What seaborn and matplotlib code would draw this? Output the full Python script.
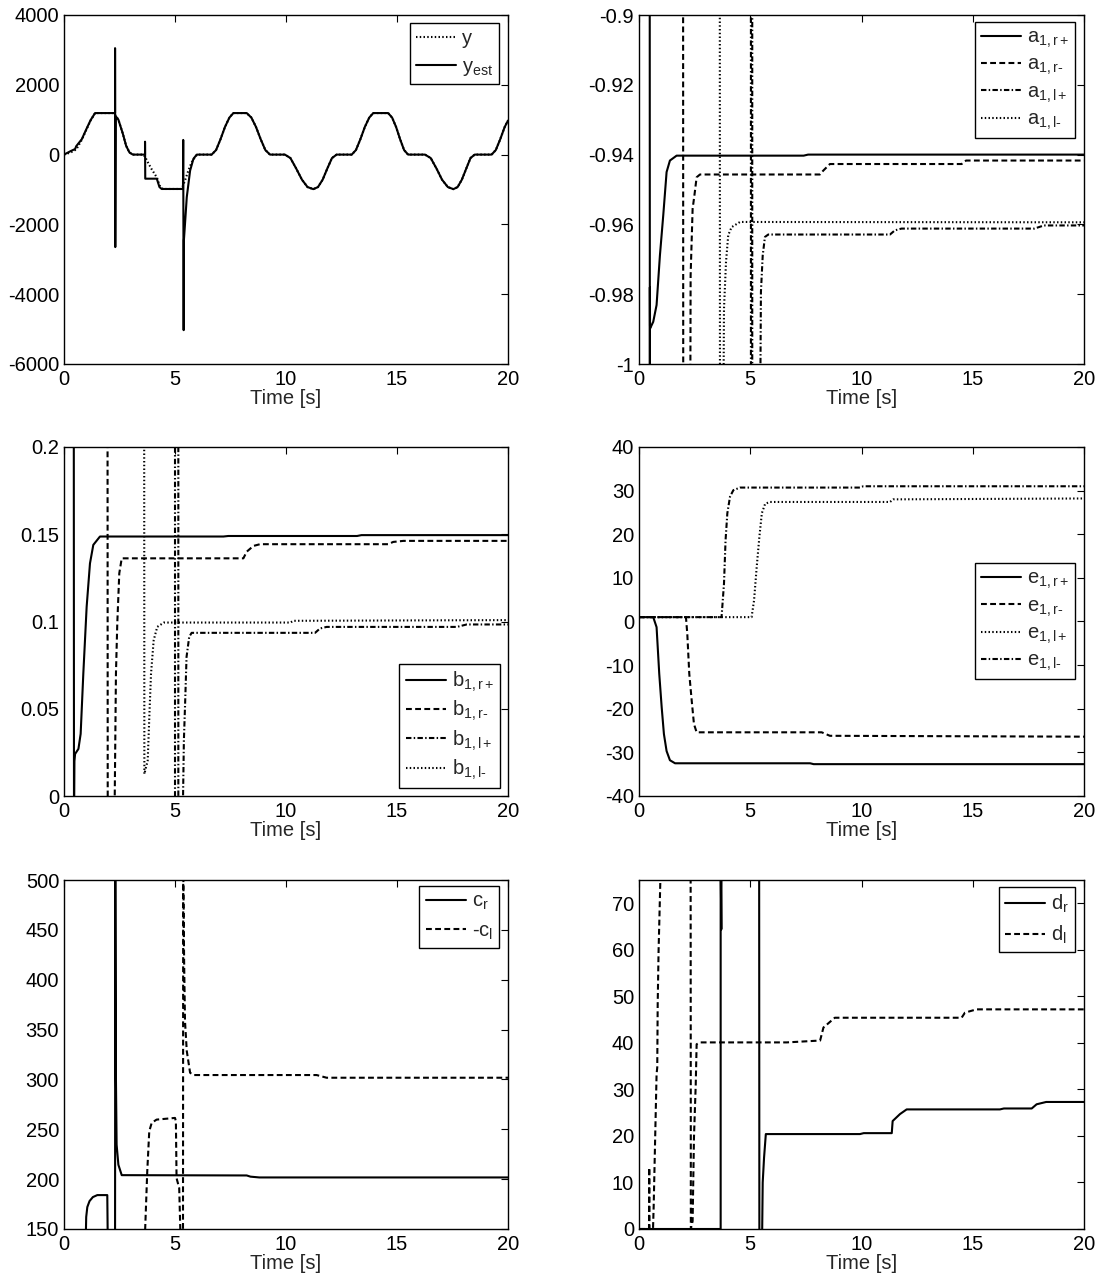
import numpy as np
import pandas as pd
import matplotlib
matplotlib.use("Agg")
import matplotlib.pyplot as plt
from matplotlib.ticker import FormatStrFormatter, MultipleLocator
import seaborn as sns

# ---------------------------------------------------------------- data
# Output and its estimate: common periodic tail after the start-up transient
TAIL_T = [6.65, 6.85, 7.05, 7.25, 7.45, 7.63, 8.23, 8.44, 8.65, 8.86, 9.07, 9.28,
          9.95, 10.2, 10.46, 10.72, 10.97, 11.23, 11.44, 11.65, 11.86, 12.07, 12.28,
          12.96, 13.15, 13.35, 13.55, 13.75, 13.93, 14.6, 14.78, 14.96, 15.14, 15.32, 15.5,
          16.26, 16.52, 16.78, 17.03, 17.29, 17.54, 17.73, 17.92, 18.12, 18.31, 18.5,
          19.26, 19.45, 19.65, 19.85, 20.0]
TAIL_V = [0, 130, 440, 790, 1060, 1190, 1190, 1060, 790, 440, 130, 0,
          0, -100, -400, -720, -930, -990, -930, -720, -400, -100, 0,
          0, 130, 440, 790, 1060, 1190, 1190, 1060, 790, 440, 130, 0,
          0, -100, -400, -720, -930, -990, -930, -720, -400, -100, 0,
          0, 130, 440, 790, 975]

Y_START_T = [0.0, 0.3, 0.5, 0.6, 0.8, 1.0, 1.2, 1.4, 2.25, 2.45, 2.65, 2.8, 2.95, 3.1,
             3.57, 3.65, 3.8, 3.95, 4.1, 4.2, 4.3, 4.45, 5.3, 5.45, 5.6, 5.75, 5.9, 6.0]
Y_START_V = [0, 60, 130, 200, 420, 700, 980, 1190, 1190, 1000, 600, 250, 60, 0,
             0, -60, -250, -420, -570, -680, -880, -985, -985, -745, -460, -220, -76, 0]

YEST_START_T = [0.0, 0.3, 0.5, 0.55, 0.8, 1.0, 1.2, 1.4, 2.3, 2.3, 2.31, 2.33, 2.45, 2.65,
                2.8, 2.95, 3.1, 3.65, 3.65, 3.66, 4.18, 4.3, 4.4, 5.36, 5.37, 5.39, 5.40,
                5.45, 5.53, 5.68, 5.83, 5.98]
YEST_START_V = [0, 100, 160, 240, 440, 720, 990, 1190, 1190, 3050, -2650, 1100, 1000, 600,
                250, 60, 0, 0, 370, -690, -690, -930, -985, -985, 420, -5030, -2460,
                -1990, -1220, -460, -120, 0]

# a1 parameters
A_RP_T = [0.48, 0.49, 0.49, 0.495, 0.50, 0.64, 0.79, 0.94, 1.09, 1.24, 1.39, 1.69, 7.4, 7.6, 20.0]
A_RP_V = [-0.85, -1.05, -0.978, -0.989, -0.9898, -0.9879, -0.9831, -0.9689, -0.9574,
          -0.9450, -0.9417, -0.9403, -0.9403, -0.9400, -0.9400]
A_RM_T = [1.98, 1.99, 2.29, 2.32, 2.41, 2.49, 2.59, 2.74, 8.13, 8.28, 8.58, 14.5, 14.7, 20.0]
A_RM_V = [-0.85, -1.05, -1.05, -0.9746, -0.9555, -0.9517, -0.9465, -0.9457, -0.9457,
          -0.9446, -0.9427, -0.9427, -0.9417, -0.9417]
A_LP_T = [5.03, 5.03, 5.09, 5.09, 5.41, 5.48, 5.56, 5.66, 5.81, 11.28, 11.5, 11.8, 17.77, 18.2, 20.0]
A_LP_V = [-1.05, -0.85, -0.85, -1.05, -1.05, -0.9793, -0.9689, -0.9636, -0.9629, -0.9629,
          -0.9617, -0.9612, -0.9612, -0.9603, -0.9603]
A_LM_T = [3.63, 3.64, 3.76, 3.82, 3.91, 4.01, 4.16, 4.54, 20.0]
A_LM_V = [-0.85, -1.05, -1.05, -0.9841, -0.9708, -0.9631, -0.9608, -0.9593, -0.9594]

# b1 parameters
B_RP_T = [0.44, 0.45, 0.47, 0.50, 0.65, 0.75, 0.87, 1.02, 1.17, 1.32, 1.62, 7.18, 7.4, 13.2, 13.4, 20.0]
B_RP_V = [0.25, -0.02, 0.02, 0.0241, 0.0270, 0.0356, 0.0701, 0.1084, 0.1333, 0.1439, 0.1487,
          0.1487, 0.1490, 0.1490, 0.1495, 0.1495]
B_RM_T = [1.96, 1.97, 2.27, 2.34, 2.40, 2.49, 2.60, 8.08, 8.23, 8.53, 8.83, 14.6, 14.83, 15.29, 20.0]
B_RM_V = [0.25, -0.02, -0.02, 0.0701, 0.0989, 0.1276, 0.1362, 0.1362, 0.1400, 0.1433, 0.1443,
          0.1443, 0.1456, 0.1462, 0.1462]
B_LP_T = [5.0, 5.0, 5.15, 5.15, 5.34, 5.40, 5.46, 5.52, 5.64, 5.75, 11.31, 11.53, 11.83, 17.7, 18.14, 20.0]
B_LP_V = [-0.02, 0.25, 0.25, -0.02, -0.02, 0.0318, 0.0548, 0.0797, 0.0912, 0.0935, 0.0935,
          0.0960, 0.0969, 0.0969, 0.0983, 0.0983]
B_LM_T = [3.61, 3.62, 3.77, 3.86, 3.92, 4.04, 4.20, 4.50, 10.2, 10.33, 20.0]
B_LM_V = [0.25, 0.0126, 0.0203, 0.0510, 0.0701, 0.0893, 0.0969, 0.0994, 0.0994, 0.1004, 0.1008]

# e1 parameters
E_RP_T = [0.0, 0.64, 0.79, 0.91, 1.02, 1.12, 1.24, 1.39, 1.62, 7.69, 7.85, 20.0]
E_RP_V = [1.0, 1.0, -1.3, -12.0, -19.7, -25.8, -29.7, -31.8, -32.5, -32.5, -32.7, -32.7]
E_RM_T = [0.0, 2.11, 2.17, 2.26, 2.37, 2.47, 2.59, 8.21, 8.58, 20.0]
E_RM_V = [1.0, 1.0, -2.8, -12.0, -18.2, -23.5, -25.4, -25.4, -26.2, -26.4]
E_LP_T = [0.0, 5.06, 5.17, 5.29, 5.41, 5.52, 5.67, 5.89, 11.28, 11.43, 20.0]
E_LP_V = [1.0, 1.0, 4.8, 12.5, 19.4, 24.8, 27.0, 27.4, 27.4, 28.0, 28.2]
E_LM_T = [0.0, 3.71, 3.82, 3.89, 3.97, 4.09, 4.24, 4.54, 9.93, 10.08, 20.0]
E_LM_V = [1.0, 1.0, 8.7, 18.6, 24.8, 28.6, 30.1, 30.7, 30.7, 31.0, 31.0]

# c parameters
C_R_T = [0.98, 1.0, 1.05, 1.15, 1.3, 1.5, 1.95, 1.97, 2.29, 2.30, 2.31, 2.34, 2.37, 2.45,
         2.60, 8.23, 8.4, 8.8, 20.0]
C_R_V = [140, 162, 172, 178, 182, 184, 184, 140, 140, 140, 520, 300, 234.6, 214.4,
         204.0, 203.7, 202.5, 201.7, 201.7]
C_L_T = [3.64, 3.75, 3.84, 3.95, 4.17, 5.0, 5.04, 5.07, 5.19, 5.25, 5.36, 5.37, 5.41, 5.45,
         5.53, 5.68, 5.83, 11.38, 11.83, 20.0]
C_L_V = [140, 207.7, 248, 256.4, 259.7, 261.4, 258, 201, 191, 140, 140, 520, 420, 358.7,
         328.5, 306.7, 304.4, 304.4, 301.7, 301.7]

# d parameters
D_R_T = [0.0, 3.67, 3.67, 3.70, 3.71, 5.40, 5.41, 5.53, 5.56, 5.62, 5.70, 9.93, 10.1,
         11.36, 11.40, 11.73, 12.03, 16.22, 16.4, 17.65, 17.87, 18.3, 20.0]
D_R_V = [0, 0, 80, 64.4, 80, 80, -3, -3, 10, 15.3, 20.4, 20.4, 20.6,
         20.6, 23.2, 24.7, 25.7, 25.7, 25.9, 25.9, 26.8, 27.3, 27.3]
D_L_T = [0.0, 0.45, 0.46, 0.47, 0.63, 0.66, 0.72, 0.79, 0.82, 0.84, 0.88, 0.96, 1.0, 2.32,
         2.33, 2.41, 2.47, 2.55, 2.59, 2.74, 6.64, 8.14, 8.29, 8.80, 14.5, 14.65, 15.17, 20.0]
D_L_V = [0, 0, 13.2, 0, 0, 5, 18.2, 33.3, 34.7, 48.3, 59.8, 75, 80, 80,
         0, 1.7, 19.6, 31.1, 39.7, 40.1, 40.1, 40.5, 43.3, 45.4, 45.4, 46.5, 47.2, 47.2]

# ---------------------------------------------------------------- style
sns.set_style("white")
plt.rcParams["font.family"] = ["Liberation Sans", "DejaVu Sans"]
plt.rcParams.update({
    "mathtext.fontset": "custom",
    "mathtext.rm": "Liberation Sans",
    "mathtext.it": "Liberation Sans",
    "mathtext.bf": "Liberation Sans",
    "mathtext.fallback": "stixsans",
    "axes.unicode_minus": False,
    "font.size": 14.5,
    "axes.edgecolor": "black",
    "axes.linewidth": 1.0,
    "xtick.color": "black",
    "ytick.color": "black",
})

LW = 1.5
STYLES = {
    "solid": "-",
    "dashed": (0, (2.8, 1.6)),
    "dotted": (0, (0.7, 1.1)),
    "dashdot": (0, (2.6, 1.1, 0.7, 1.1)),
}
HY = "\u2010"  # short hyphen for subscripts (mathtext turns '-' into a wide minus)

FONT = 14.5
W, H = 1103, 1280
fig = plt.figure(figsize=(W / 100, H / 100), dpi=100)


def make_axes(px_left, px_top, px_w=444, px_h=349):
    return fig.add_axes([px_left / W, 1 - (px_top + px_h) / H, px_w / W, px_h / H])


def trace(ax, t, v, style, label):
    df = pd.DataFrame({"t": t, "v": v})
    sns.lineplot(data=df, x="t", y="v", ax=ax, estimator=None, sort=False,
                 color="black", linestyle=STYLES[style], linewidth=LW, label=label)


def finish(ax, ylim, ystep, yfmt, legend_loc, anchor, spacing=0.25):
    ax.set_xlim(0, 20)
    ax.set_ylim(*ylim)
    ax.xaxis.set_major_locator(MultipleLocator(5))
    ax.yaxis.set_major_locator(MultipleLocator(ystep))
    ax.yaxis.set_major_formatter(FormatStrFormatter(yfmt))
    ax.xaxis.set_major_formatter(FormatStrFormatter("%g"))
    ax.tick_params(direction="in", top=True, right=True, length=5, width=0.8,
                   labelsize=FONT)
    ax.tick_params(axis="x", pad=4.5)
    ax.tick_params(axis="y", pad=3.5)
    ax.set_xlabel("Time [s]", fontsize=FONT, labelpad=0)
    ax.set_ylabel("")
    for sp in ax.spines.values():
        sp.set_visible(True)
        sp.set_color("black")
        sp.set_linewidth(1.0)
    handles, labels = ax.get_legend_handles_labels()
    leg = ax.legend(handles, labels, loc=legend_loc, bbox_to_anchor=anchor,
                    fontsize=FONT, frameon=True, fancybox=False, framealpha=1,
                    edgecolor="black", borderpad=0.3, handlelength=2.0,
                    handletextpad=0.3, labelspacing=spacing, borderaxespad=0)
    leg.get_frame().set_linewidth(1.0)


# output vs estimate
ax = make_axes(64, 15)
trace(ax, Y_START_T + TAIL_T, Y_START_V + TAIL_V, "dotted", "y")
trace(ax, YEST_START_T + TAIL_T, YEST_START_V + TAIL_V, "solid", r"y$_{\rm est}$")
finish(ax, (-6000, 4000), 2000, "%g", "upper right", (0.980, 0.978), spacing=0.45)

# a1 parameters
ax = make_axes(639, 15, px_w=445)
trace(ax, A_RP_T, A_RP_V, "solid", r"a$_{1,r+}$")
trace(ax, A_RM_T, A_RM_V, "dashed", "a$_{1,r" + HY + "}$")
trace(ax, A_LP_T, A_LP_V, "dashdot", r"a$_{1,l+}$")
trace(ax, A_LM_T, A_LM_V, "dotted", "a$_{1,l" + HY + "}$")
finish(ax, (-1.0, -0.9), 0.02, "%g", "upper right", (0.980, 0.981))

# b1 parameters
ax = make_axes(64, 447)
trace(ax, B_RP_T, B_RP_V, "solid", r"b$_{1,r+}$")
trace(ax, B_RM_T, B_RM_V, "dashed", "b$_{1,r" + HY + "}$")
trace(ax, B_LP_T, B_LP_V, "dashdot", r"b$_{1,l+}$")
trace(ax, B_LM_T, B_LM_V, "dotted", "b$_{1,l" + HY + "}$")
finish(ax, (0, 0.2), 0.05, "%g", "lower right", (0.982, 0.023))

# e1 parameters
ax = make_axes(639, 447, px_w=445)
trace(ax, E_RP_T, E_RP_V, "solid", r"e$_{1,r+}$")
trace(ax, E_RM_T, E_RM_V, "dashed", "e$_{1,r" + HY + "}$")
trace(ax, E_LP_T, E_LP_V, "dotted", r"e$_{1,l+}$")
trace(ax, E_LM_T, E_LM_V, "dashdot", "e$_{1,l" + HY + "}$")
finish(ax, (-40, 40), 10, "%g", "center right", (0.980, 0.501))

# c parameters
ax = make_axes(64, 880)
trace(ax, C_R_T, C_R_V, "solid", r"c$_{r}$")
trace(ax, C_L_T, C_L_V, "dashed", r"-c$_{l}$")
finish(ax, (150, 500), 50, "%g", "upper right", (0.980, 0.983), spacing=0.45)

# d parameters
ax = make_axes(639, 880, px_w=445)
trace(ax, D_R_T, D_R_V, "solid", r"d$_{r}$")
trace(ax, D_L_T, D_L_V, "dashed", r"d$_{l}$")
finish(ax, (0, 75), 10, "%g", "upper right", (0.980, 0.981), spacing=0.45)

fig.savefig("out.png", dpi=100, facecolor="white")
